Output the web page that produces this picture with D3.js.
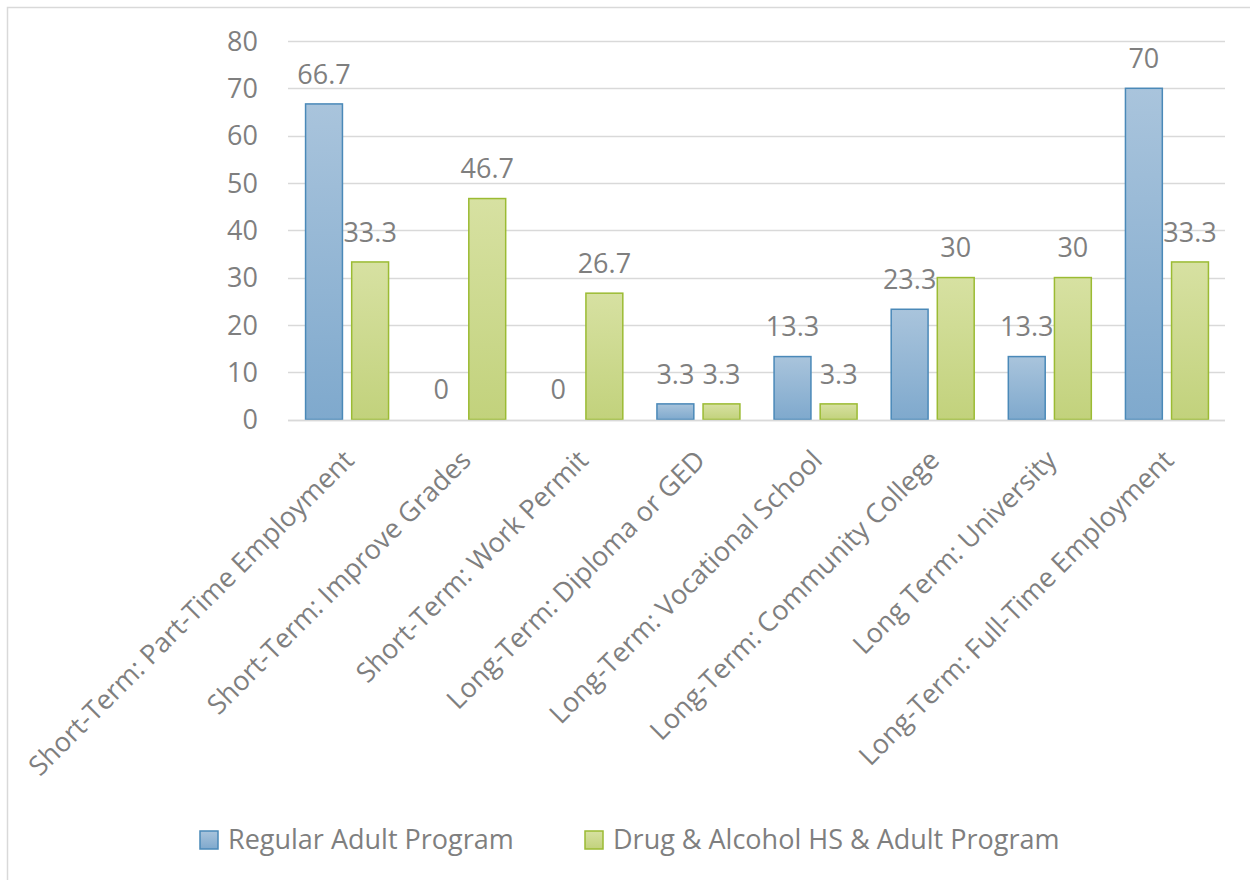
<!DOCTYPE html>
<html>
<head>
<meta charset="utf-8">
<script src="https://cdn.jsdelivr.net/npm/d3@7"></script>
<style>
    body { margin: 0; background: #fff; }
    svg { display: block; font-family: "Open Sans", sans-serif; }
</style>
</head>
<body>
<main></main>
<script>
const categories = [
    "Short-Term: Part-Time Employment",
    "Short-Term: Improve Grades",
    "Short-Term: Work Permit",
    "Long-Term: Diploma or GED",
    "Long-Term: Vocational School",
    "Long-Term: Community College",
    "Long Term: University",
    "Long-Term: Full-Time Employment"
];
const seriesNames = ["Regular Adult Program", "Drug & Alcohol HS & Adult Program"];
const regularValues = [66.7, 0, 0, 3.3, 13.3, 23.3, 13.3, 70];
const drugValues = [33.3, 46.7, 26.7, 3.3, 3.3, 30, 30, 33.3];
const yTicks = [0, 10, 20, 30, 40, 50, 60, 70, 80];

const width = 1250;
const height = 880;
const plotLeft = 288;
const plotRight = 1225;
const plotTop = 41;
const plotBottom = 419.5;
const fontSize = 27;
const textColor = '#7f7f7f';
const gridColor = '#d9d9d9';

const series = [
    { name: seriesNames[0], values: regularValues, top: '#a9c4dc', bottom: '#7fa9cd', stroke: '#4a89b8', id: 'gradBlue' },
    { name: seriesNames[1], values: drugValues, top: '#d7e1a2', bottom: '#c2d27c', stroke: '#9bbb33', id: 'gradGreen' }
];

const x = d3.scaleBand().domain(categories).range([plotLeft, plotRight]);
const xSeries = d3.scaleBand().domain([0, 1]).range([-41, 42]).paddingInner(0.2);
const y = d3.scaleLinear().domain([0, 80]).range([plotBottom, plotTop]);
const barX = (i, j) => x(categories[j]) + x.bandwidth() / 2 + xSeries(i);

const svg = d3.select('main')
    .append('svg')
    .attr('width', width)
    .attr('height', height);

const defs = svg.append('defs');
series.forEach(s => {
    const g = defs.append('linearGradient')
        .attr('id', s.id)
        .attr('x1', 0).attr('y1', 0).attr('x2', 0).attr('y2', 1);
    g.append('stop').attr('offset', '0%').attr('stop-color', s.top);
    g.append('stop').attr('offset', '100%').attr('stop-color', s.bottom);
});

// chart border
svg.append('rect')
    .attr('x', 7.5)
    .attr('y', 7.5)
    .attr('width', width + 20)
    .attr('height', height + 20)
    .attr('fill', 'none')
    .attr('stroke', gridColor)
    .attr('stroke-width', 1.5);

// gridlines + y labels
svg.append('g')
    .selectAll('line')
    .data(yTicks)
    .enter()
    .append('line')
    .attr('x1', plotLeft)
    .attr('x2', plotRight)
    .attr('y1', d => Math.round(y(d)) + 0.5)
    .attr('y2', d => Math.round(y(d)) + 0.5)
    .attr('stroke', gridColor)
    .attr('stroke-width', 1.5);

svg.append('g')
    .selectAll('text')
    .data(yTicks)
    .enter()
    .append('text')
    .attr('x', 258)
    .attr('y', d => y(d))
    .attr('dy', '0.36em')
    .attr('text-anchor', 'end')
    .attr('fill', textColor)
    .attr('font-size', fontSize)
    .text(d => d);

// value labels (drawn under the bars like the original)
series.forEach((s, i) => {
    svg.append('g')
        .selectAll('text')
        .data(s.values)
        .enter()
        .append('text')
        .attr('x', (d, j) => barX(i, j) + xSeries.bandwidth() / 2)
        .attr('y', d => y(d) - 30)
        .attr('dy', '0.36em')
        .attr('text-anchor', 'middle')
        .attr('fill', textColor)
        .attr('font-size', fontSize)
        .text(d => d);
});

// bars
series.forEach((s, i) => {
    svg.append('g')
        .selectAll('rect')
        .data(s.values.map((v, j) => ({ v, j })).filter(d => d.v > 0))
        .enter()
        .append('rect')
        .attr('x', d => barX(i, d.j))
        .attr('y', d => y(d.v))
        .attr('width', xSeries.bandwidth())
        .attr('height', d => plotBottom - y(d.v))
        .attr('fill', `url(#${s.id})`)
        .attr('stroke', s.stroke)
        .attr('stroke-width', 1.5);
});

// x axis line
svg.append('line')
    .attr('x1', plotLeft)
    .attr('x2', plotRight)
    .attr('y1', Math.round(plotBottom) + 0.5)
    .attr('y2', Math.round(plotBottom) + 0.5)
    .attr('stroke', gridColor)
    .attr('stroke-width', 1.5);

// category labels, rotated
svg.append('g')
    .selectAll('text')
    .data(categories)
    .enter()
    .append('text')
    .attr('transform', d => `translate(${x(d) + x.bandwidth() / 2 + 2}, 455) rotate(-45)`)
    .attr('text-anchor', 'end')
    .attr('dy', '0.36em')
    .attr('fill', textColor)
    .attr('font-size', fontSize)
    .text(d => d);

// legend
const legendX = [200, 585];
const legend = svg.append('g')
    .selectAll('g')
    .data(series)
    .enter()
    .append('g')
    .attr('transform', (d, i) => `translate(${legendX[i]}, 831)`);

legend.append('rect')
    .attr('width', 18)
    .attr('height', 18)
    .attr('fill', d => `url(#${d.id})`)
    .attr('stroke', d => d.stroke)
    .attr('stroke-width', 1.5);

legend.append('text')
    .attr('x', 28)
    .attr('y', 18)
    .attr('fill', textColor)
    .attr('font-size', fontSize)
    .text(d => d.name);
</script>
</body>
</html>
